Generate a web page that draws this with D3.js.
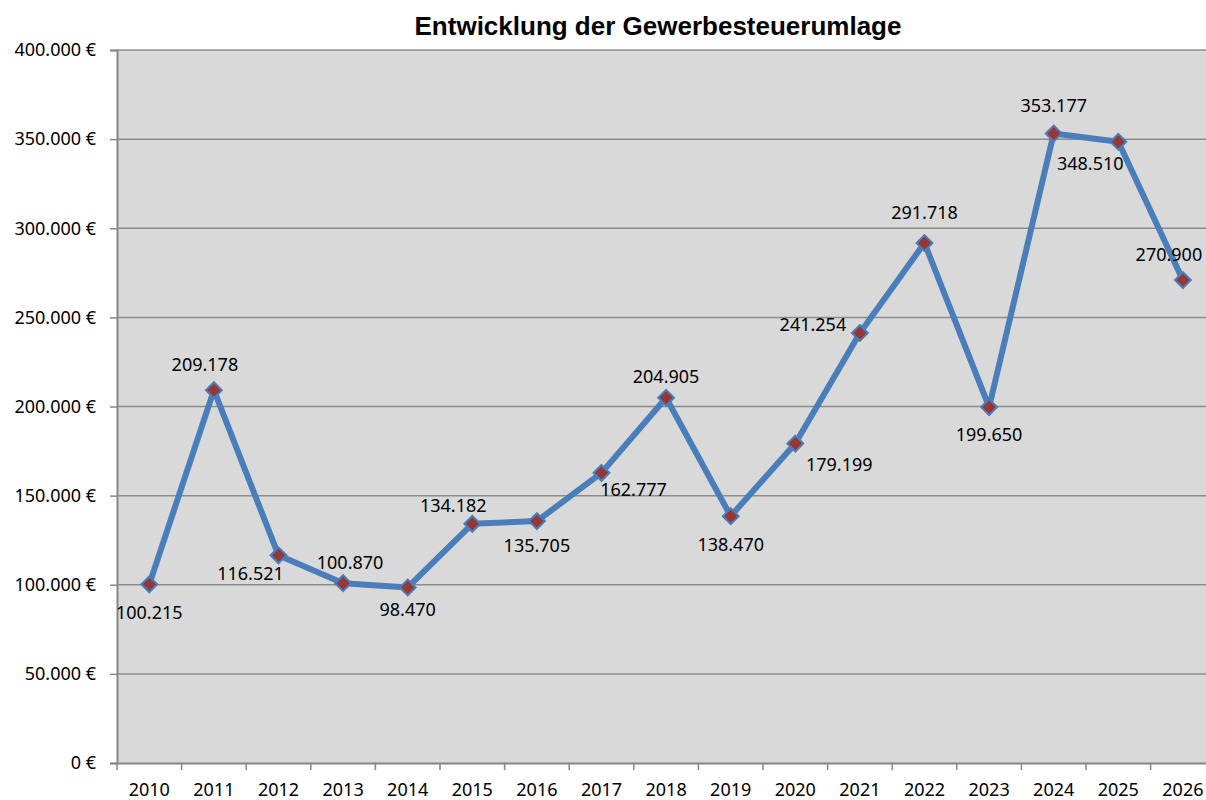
<!DOCTYPE html>
<html>
<head>
<meta charset="utf-8">
<script src="https://cdn.jsdelivr.net/npm/d3@7"></script>
<style>
  body { margin: 0; background: #fff; }
  text { font-family: "Noto Sans", "DejaVu Sans", sans-serif; }
</style>
</head>
<body>
<svg id="chart" width="1206" height="800"></svg>
<script>
// Data
var years = ["2010", "2011", "2012", "2013", "2014", "2015", "2016", "2017", "2018",
             "2019", "2020", "2021", "2022", "2023", "2024", "2025", "2026"];
var values = [100215, 209178, 116521, 100870, 98470, 134182, 135705, 162777, 204905,
              138470, 179199, 241254, 291718, 199650, 353177, 348510, 270900];
var yTicks = [0, 50000, 100000, 150000, 200000, 250000, 300000, 350000, 400000];

// label offsets from each point (layout only)
var labelOffsets = [[0, 28], [-9, -25], [-28, 18], [7, -20], [0, 22], [-19, -18], [0, 25], [32, 17], [0, -21],
                    [0, 29], [44, 21], [-47, -8], [0, -30], [0, 28], [0, -28], [-28, 22], [-14, -25]];

var width = 1206, height = 800;
var margin = { top: 50, left: 117, bottom: 37 };

var de = d3.formatLocale({ decimal: ",", thousands: ".", grouping: [3], currency: ["", " €"] });
var fmt = de.format(",");

var svg = d3.select("#chart");

var x = d3.scaleBand()
  .domain(years)
  .range([margin.left, margin.left + 17 * 64.6]);

var y = d3.scaleLinear()
  .domain([0, 400000])
  .range([height - margin.bottom, margin.top]);

// plot background
svg.append("rect")
  .attr("x", margin.left)
  .attr("y", margin.top)
  .attr("width", width - margin.left)
  .attr("height", y(0) - margin.top)
  .attr("fill", "#d9d9d9");

// gridlines
svg.append("g")
  .selectAll("line")
  .data(yTicks.slice(1))
  .enter().append("line")
    .attr("x1", margin.left)
    .attr("x2", width)
    .attr("y1", function(d) { return y(d); })
    .attr("y2", function(d) { return y(d); })
    .attr("stroke", "#8c8c8c")
    .attr("stroke-width", 1.5);

// y axis
var yAxis = svg.append("g")
  .attr("transform", "translate(" + margin.left + ",0)")
  .call(d3.axisLeft(y).tickValues(yTicks).tickSize(7).tickPadding(14)
    .tickFormat(function(d) { return fmt(d) + " €"; }));
yAxis.select(".domain").attr("stroke", "#868686").attr("stroke-width", 2);
yAxis.selectAll(".tick line").attr("stroke", "#868686").attr("stroke-width", 1.5);
yAxis.selectAll(".tick text")
  .attr("font-size", 18)
  .attr("fill", "#000")
  .style("font-family", "'Noto Sans', sans-serif");

// x axis
var xAxis = svg.append("g")
  .attr("transform", "translate(0," + y(0) + ")")
  .call(d3.axisBottom(x).tickSize(0).tickPadding(20));
xAxis.select(".domain").attr("stroke", "#868686").attr("stroke-width", 2);
xAxis.selectAll(".tick text")
  .attr("font-size", 18)
  .attr("fill", "#000")
  .style("font-family", "'Noto Sans', sans-serif");

// tick marks between categories
svg.append("g")
  .selectAll("line")
  .data(years)
  .enter().append("line")
    .attr("x1", function(d) { return x(d); })
    .attr("x2", function(d) { return x(d); })
    .attr("y1", y(0))
    .attr("y2", y(0) + 7)
    .attr("stroke", "#868686")
    .attr("stroke-width", 1.5);

// title
svg.append("text")
  .attr("x", 658)
  .attr("y", 35)
  .attr("text-anchor", "middle")
  .attr("font-size", 26)
  .attr("font-weight", "bold")
  .style("font-family", "'Liberation Sans', Arial, sans-serif")
  .text("Entwicklung der Gewerbesteuerumlage");

var cx = function(d, i) { return x(years[i]) + x.bandwidth() / 2; };

// line
var line = d3.line()
  .x(function(d, i) { return cx(d, i); })
  .y(function(d) { return y(d); });

svg.append("path")
  .datum(values)
  .attr("d", line)
  .attr("fill", "none")
  .attr("stroke", "#4a7ebb")
  .attr("stroke-width", 6)
  .attr("stroke-linejoin", "round");

// diamond markers
svg.append("g")
  .selectAll("path")
  .data(values)
  .enter().append("path")
    .attr("transform", function(d, i) { return "translate(" + cx(d, i) + "," + y(d) + ")"; })
    .attr("d", d3.symbol().type(d3.symbolDiamond2).size(160))
    .attr("fill", "#953735")
    .attr("stroke", "#4a7ebb")
    .attr("stroke-width", 2);

// data labels
svg.append("g")
  .selectAll("text")
  .data(values)
  .enter().append("text")
    .attr("x", function(d, i) { return cx(d, i) + labelOffsets[i][0]; })
    .attr("y", function(d, i) { return y(d) + labelOffsets[i][1]; })
    .attr("dy", "0.35em")
    .attr("text-anchor", "middle")
    .attr("font-size", 18)
    .attr("fill", "#000")
    .text(function(d) { return fmt(d); });
</script>
</body>
</html>
